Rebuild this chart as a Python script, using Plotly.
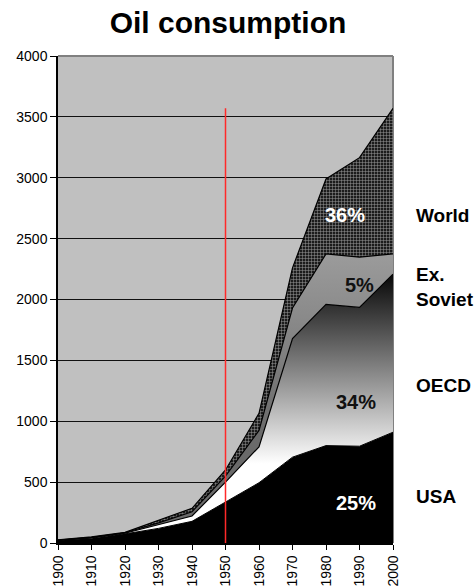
import plotly.graph_objects as go

# ---- data (cumulative stacked totals) ----
years = [1900, 1910, 1920, 1930, 1940, 1950, 1960, 1970, 1980, 1990, 2000]
usa = [20, 40, 75, 120, 178, 340, 495, 705, 800, 795, 910]
oecd_total = [22, 44, 80, 148, 222, 500, 790, 1680, 1960, 1935, 2208]
ex_soviet_total = [24, 47, 84, 165, 257, 550, 925, 1930, 2375, 2348, 2375]
world_total = [26, 50, 88, 189, 285, 600, 1065, 2260, 2990, 3165, 3570]
tick_labels = [str(y) for y in years]

shares = ["36%", "5%", "34%", "25%"]
share_colors = ["white", "#111111", "#111111", "white"]
share_x = [1985.7, 1990, 1989, 1989]
share_y = [2693, 2118, 1158, 328]

region_names = ["World", "Ex.<br>Soviet", "OECD", "USA"]
region_y = [2693, 2102, 1297, 378]

marker_year = 1950
marker_top = 3570

FONT = "Liberation Sans, Arial, sans-serif"

fig = go.Figure()

fig.add_trace(go.Scatter(
    x=years, y=usa, mode="lines", fill="tozeroy",
    line=dict(color="black", width=1), fillcolor="black",
    hoverinfo="skip", showlegend=False))

fig.add_trace(go.Scatter(
    x=years, y=oecd_total, mode="lines", fill="tonexty",
    line=dict(color="black", width=1.2),
    fillgradient=dict(type="vertical", start=650, stop=2250,
                      colorscale=[[0, "#ffffff"], [1, "#000000"]]),
    hoverinfo="skip", showlegend=False))

fig.add_trace(go.Scatter(
    x=years, y=ex_soviet_total, mode="lines", fill="tonexty",
    line=dict(color="black", width=1.2),
    fillgradient=dict(type="vertical", start=900, stop=2400,
                      colorscale=[[0, "#6a6a6a"], [1, "#9c9c9c"]]),
    hoverinfo="skip", showlegend=False))

fig.add_trace(go.Scatter(
    x=years, y=world_total, mode="lines", fill="tonexty",
    line=dict(color="black", width=1.2),
    fillcolor="#2a2a2a",
    fillpattern=dict(shape="+", size=3, solidity=0.3,
                     fgcolor="#9a9a9a", bgcolor="#1c1c1c", fillmode="replace"),
    hoverinfo="skip", showlegend=False))

# red marker line
fig.add_shape(type="line", x0=marker_year, x1=marker_year, y0=0, y1=marker_top,
              xref="x", yref="y", line=dict(color="#ff2a2a", width=1.5), layer="above")

# gray frame top/right
fig.add_shape(type="line", x0=0, x1=1, y0=1, y1=1, xref="x domain", yref="y domain",
              line=dict(color="#808080", width=2), layer="below")
fig.add_shape(type="line", x0=1, x1=1, y0=0, y1=1, xref="x domain", yref="y domain",
              line=dict(color="#808080", width=2), layer="below")

for t, c, x, y in zip(shares, share_colors, share_x, share_y):
    fig.add_annotation(x=x, y=y, text="<b>%s</b>" % t, showarrow=False,
                       font=dict(family=FONT, size=20, color=c),
                       xanchor="center", yanchor="middle")

for t, y in zip(region_names, region_y):
    fig.add_annotation(x=1.063, xref="paper", y=y, yref="y", text="<b>%s</b>" % t,
                       showarrow=False,
                       font=dict(family=FONT, size=19, color="black"),
                       xanchor="left", yanchor="middle", align="left")

fig.update_layout(
    width=475, height=586,
    margin=dict(l=58, r=82, t=56, b=43, autoexpand=False),
    paper_bgcolor="white", plot_bgcolor="#c0c0c0",
    font=dict(family=FONT, size=14, color="black"),
    title=dict(text="<b>Oil consumption</b>", x=228 / 475, xanchor="center",
               y=1 - 22 / 586, yanchor="middle", xref="container", yref="container",
               automargin=False,
               font=dict(family=FONT, size=30, color="black")),
    xaxis=dict(range=[1900, 2000], tickvals=years, ticktext=tick_labels,
               tickangle=-90, ticks="outside", ticklen=5, tickcolor="black",
               showgrid=False, zeroline=False, showline=True, linecolor="black",
               linewidth=1.5, tickfont=dict(size=14), automargin=False),
    yaxis=dict(range=[0, 4000], dtick=500, ticks="outside", ticklen=6,
               tickcolor="black", showgrid=True, gridcolor="#111111", gridwidth=1,
               zeroline=False, showline=True, linecolor="black", linewidth=1.5,
               tickfont=dict(size=14), automargin=False),
)

fig.write_html(
    "out.html",
    config={"displayModeBar": False},
    post_script="document.body.style.margin='0';document.body.style.padding='0';",
)
